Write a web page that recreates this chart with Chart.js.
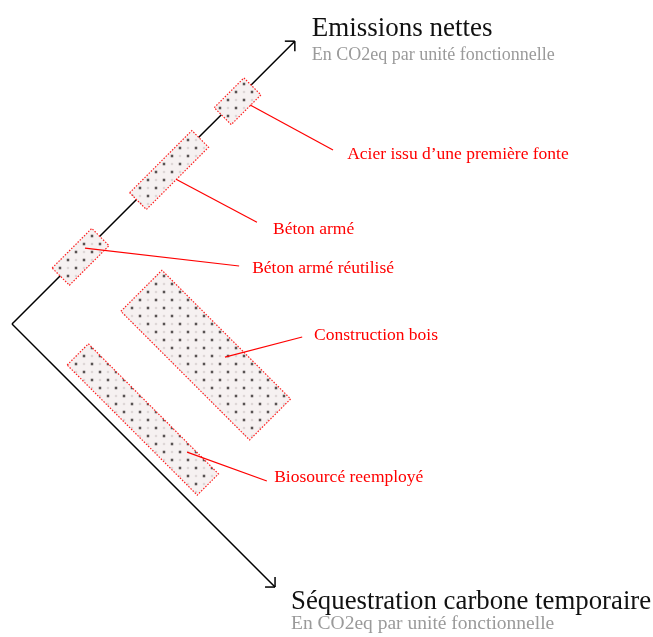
<!DOCTYPE html>
<html>
<head>
<meta charset="utf-8">
<script src="https://cdn.jsdelivr.net/npm/chart.js@4.4.1/dist/chart.umd.min.js"></script>
<style>
html, body { margin: 0; padding: 0; background: #fff; }
canvas { display: block; }
</style>
</head>
<body>
<canvas id="chart" width="653" height="637"></canvas>
<script>
// Two axes at 45 degrees: emissions (up-right) and temporary sequestration (down-right)
const emissionAxisMax = 100;
const sequestrationAxisMax = 93;

const materials = [
    'Acier issu d\u2019une première fonte',
    'Béton armé',
    'Béton armé réutilisé',
    'Construction bois',
    'Biosourcé reemployé'
];

// ranges of each material in (emission, sequestration) units
const emissionMin      = [74,   44,   17,   21.5, 2.5];
const emissionMax      = [84.5, 66,   31,   36,   10];
const sequestrationMin = [-2.5, -2.4, -2.8, 17,   17];
const sequestrationMax = [3.5,  3.5,  3.3,  62.5, 63];

// leader lines: from a point on the shape to the label
const anchorEmission      = [80.8, 54.6, 26.3, 31.8, 8.3];
const anchorSequestration = [3.4,  3.4,  -0.5, 43.5, 53.6];
const lineEndEmission      = [87.5, 61.3, 50.4, 49,   17.3];
const lineEndSequestration = [26,   25.3, 29.9, 53.6, 72.8];
const labelEmission      = [89.3, 62.8, 52.2, 51.3, 19.3];
const labelSequestration = [29.2, 29.5, 32.7, 55.5, 73.4];

const S2 = Math.SQRT2;
function toXY(u, v){
    return { x: (u + v) / S2, y: (u - v) / S2 };
}

function makePattern(){
    const c = document.createElement('canvas');
    c.width = 16; c.height = 16;
    const g = c.getContext('2d');
    g.fillStyle = '#f6f1f1';
    g.fillRect(0, 0, 16, 16);
    g.fillStyle = '#ddd6d6';
    [[12, 4], [4, 12]].forEach(p => { g.beginPath(); g.arc(p[0], p[1], 1.3, 0, Math.PI * 2); g.fill(); });
    g.fillStyle = '#d2cccc';
    [[4, 4], [12, 12]].forEach(p => { g.beginPath(); g.arc(p[0], p[1], 2, 0, Math.PI * 2); g.fill(); });
    g.fillStyle = '#555050';
    [[4, 4], [12, 12]].forEach(p => { g.beginPath(); g.arc(p[0], p[1], 1.2, 0, Math.PI * 2); g.fill(); });
    return g.createPattern(c, 'repeat');
}

const ctx = document.getElementById('chart').getContext('2d');
const dots = makePattern();

const datasets = [];

materials.forEach((m, i) => {
    datasets.push({
        label: m + ' (repère)',
        data: [toXY(anchorEmission[i], anchorSequestration[i]),
               toXY(lineEndEmission[i], lineEndSequestration[i])],
        borderColor: '#ff0000',
        borderWidth: 1.2,
        pointRadius: 0,
        fill: false,
        order: 0
    });
});

materials.forEach((m, i) => {
    const a = emissionMin[i], b = emissionMax[i];
    const c = sequestrationMin[i], d = sequestrationMax[i];
    datasets.push({
        label: m,
        data: [toXY(a, c), toXY(b, c), toXY(b, d), toXY(a, d), toXY(a, c)],
        borderColor: '#ff1f1f',
        borderWidth: 1.2,
        borderDash: [1.5, 1.5],
        backgroundColor: dots,
        pointRadius: 0,
        fill: 'shape',
        order: 1
    });
});

datasets.push({
    label: 'Emissions nettes',
    data: [toXY(0, 0), toXY(emissionAxisMax, 0)],
    borderColor: '#000',
    borderWidth: 1.5,
    pointRadius: 0,
    fill: false,
    order: 2
});
datasets.push({
    label: 'Séquestration carbone temporaire',
    data: [toXY(0, 0), toXY(0, sequestrationAxisMax)],
    borderColor: '#000',
    borderWidth: 1.5,
    pointRadius: 0,
    fill: false,
    order: 2
});

const annotations = {
    id: 'annotations',
    afterDatasetsDraw(chart){
        const c = chart.ctx;
        const xs = chart.scales.x, ys = chart.scales.y;
        const px = (u, v) => {
            const p = toXY(u, v);
            return { x: xs.getPixelForValue(p.x), y: ys.getPixelForValue(p.y) };
        };

        // arrow heads
        const o = px(0, 0);
        const tips = [px(emissionAxisMax, 0), px(0, sequestrationAxisMax)];
        c.save();
        c.strokeStyle = '#000';
        c.lineWidth = 1.5;
        tips.forEach(t => {
            const len = Math.hypot(t.x - o.x, t.y - o.y);
            const bx = (o.x - t.x) / len, by = (o.y - t.y) / len;
            [Math.PI / 4, -Math.PI / 4].forEach(a => {
                const rx = bx * Math.cos(a) - by * Math.sin(a);
                const ry = bx * Math.sin(a) + by * Math.cos(a);
                c.beginPath();
                c.moveTo(t.x + rx * 10, t.y + ry * 10);
                c.lineTo(t.x, t.y);
                c.stroke();
            });
        });

        // axis titles
        const font = '"Liberation Serif", "Times New Roman", serif';
        c.textAlign = 'left';
        c.textBaseline = 'alphabetic';
        c.fillStyle = '#111';
        c.font = '27px ' + font;
        c.fillText('Emissions nettes', tips[0].x + 17, tips[0].y - 5);
        c.font = '26.8px ' + font;
        c.fillText('Séquestration carbone temporaire', tips[1].x + 16, tips[1].y + 22);
        c.fillStyle = '#9a9a9a';
        c.font = '18px ' + font;
        c.fillText('En CO2eq par unité fonctionnelle', tips[0].x + 17, tips[0].y + 19);
        c.font = '19.5px ' + font;
        c.fillText('En CO2eq par unité fonctionnelle', tips[1].x + 16, tips[1].y + 42);

        // material labels
        c.fillStyle = '#ff0000';
        c.font = '17.5px ' + font;
        c.textBaseline = 'middle';
        materials.forEach((m, i) => {
            const p = px(labelEmission[i], labelSequestration[i]);
            c.fillText(m, p.x, p.y);
        });
        c.restore();
    }
};

new Chart(ctx, {
    type: 'line',
    data: { datasets: datasets },
    options: {
        responsive: false,
        animation: false,
        events: [],
        layout: { padding: 0 },
        scales: {
            x: { type: 'linear', display: false, min: -3, max: 160.25 },
            y: { type: 'linear', display: false, min: -78.25, max: 81 }
        },
        plugins: {
            legend: { display: false },
            tooltip: { enabled: false }
        }
    },
    plugins: [annotations]
});
</script>
</body>
</html>
